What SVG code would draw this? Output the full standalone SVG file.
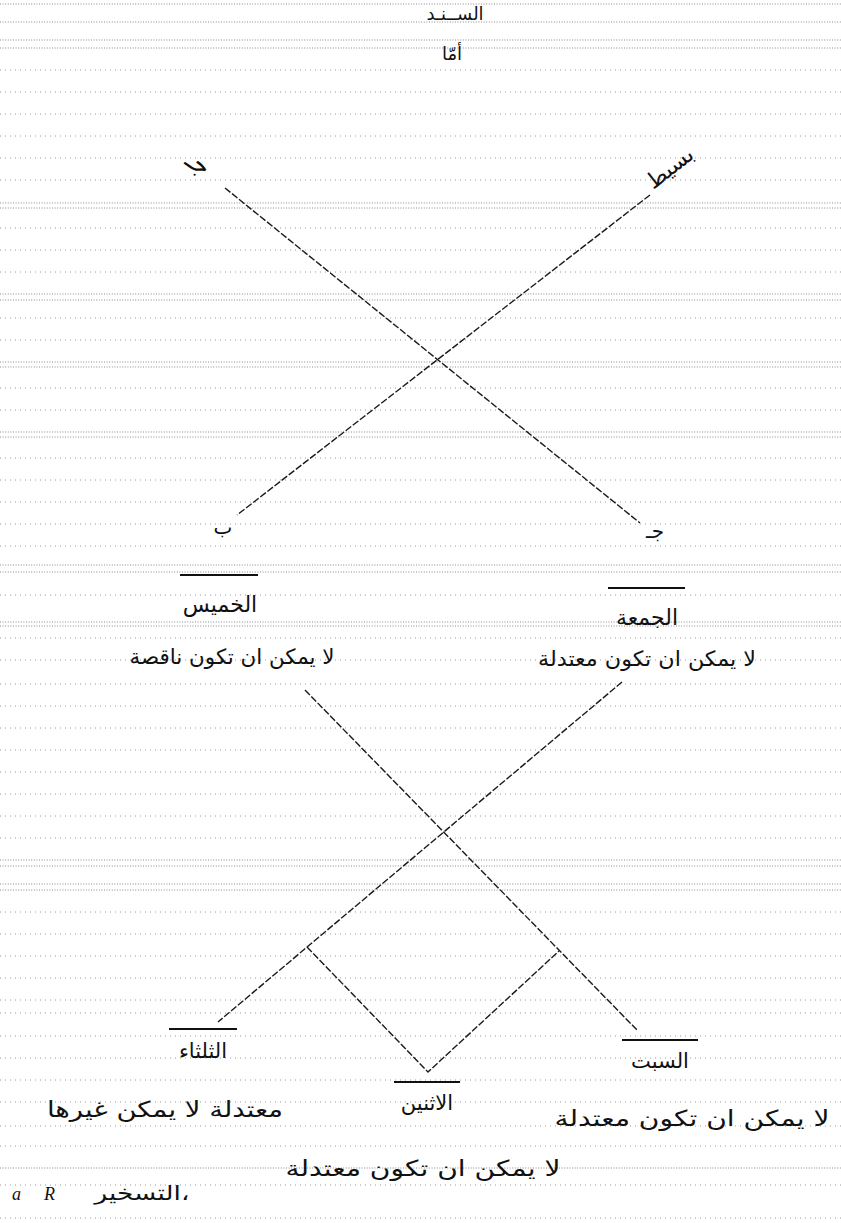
<svg xmlns="http://www.w3.org/2000/svg" width="841" height="1223" viewBox="0 0 841 1223">
<style>
.d{stroke:#9a9a9a;stroke-width:1;stroke-dasharray:1 4;fill:none}
.dd{stroke:#8a8a8a;stroke-width:1;stroke-dasharray:1 1.6;fill:none}
.c{stroke:#1a1a1a;stroke-width:1.4;stroke-dasharray:7 2;fill:none}
.o{stroke:#111;stroke-width:2;fill:none}
.t{font-family:"DejaVu Sans","Noto Sans",sans-serif;fill:#111;text-anchor:middle}
.l{font-family:"Liberation Serif",serif;font-style:italic;fill:#111}
</style>
<rect width="841" height="1223" fill="#fff"/>
<g id="ruling">
<path class="dd" d="M0 4H841M0 22H841M0 40H841M0 48H841"/>
<path class="d" d="M0 70H841M0 92H841M0 114H841M0 136H841M0 158H841M0 180H841"/>
<path class="dd" d="M0 203H841M0 208H841"/>
<path class="d" d="M0 228H841M0 250H841M0 272H841"/>
<path class="dd" d="M0 294H841M0 300H841"/>
<path class="d" d="M0 318H841M0 340H841"/>
<path class="dd" d="M0 362H841M0 367H841"/>
<path class="d" d="M0 388H841M0 410H841"/>
<path class="dd" d="M0 432H841M0 437H841"/>
<path class="d" d="M0 458H841M0 480H841M0 502H841M0 524H841M0 546H841"/>
<path class="dd" d="M0 565H841M0 572H841"/>
<path class="d" d="M0 595H841"/>
<path class="dd" d="M0 622H841M0 626H841"/>
<path class="d" d="M0 638H841M0 660H841M0 684H841M0 706H841M0 728H841M0 750H841M0 772H841M0 794H841M0 816H841M0 838H841"/>
<path class="dd" d="M0 860H841M0 866H841M0 884H841M0 890H841"/>
<path class="d" d="M0 912H841M0 934H841M0 956H841M0 978H841M0 1000H841M0 1013H841M0 1036H841M0 1058H841M0 1080H841M0 1102H841M0 1126H841M0 1146H841"/>
<path class="dd" d="M0 1168H841"/>
<path class="d" d="M0 1185H841M0 1218H841"/>
</g>
<g id="connectors">
<line class="c" x1="225" y1="188" x2="640" y2="523"/>
<line class="c" x1="650" y1="195" x2="237" y2="515"/>
<line class="c" x1="305" y1="690" x2="637" y2="1030"/>
<line class="c" x1="622" y1="682" x2="218" y2="1022"/>
<polyline class="c" points="307,947 428,1072 559,951"/>
</g>
<g id="title"><text class="t" x="455" y="20" font-size="18">الســنـد</text></g>
<g id="imma"><text class="t" x="452" y="60" font-size="18">أمّا</text></g>
<g id="corner-tl"><text class="t" x="198" y="172" font-size="26" transform="rotate(35 198 164)">جـ</text></g>
<g id="corner-tr"><text class="t" x="670" y="175" font-size="22" transform="rotate(-38 670 168)">بسيط</text></g>
<g id="corner-bl"><text class="t" x="223" y="534" font-size="20">ب</text></g>
<g id="corner-br"><text class="t" x="655" y="538" font-size="20">جـ</text></g>
<g id="thursday">
<line class="o" x1="180" y1="575" x2="258" y2="575"/>
<text class="t" x="220" y="612" font-size="22">الخميس</text>
<text class="t" x="232" y="664" font-size="21" textLength="205" lengthAdjust="spacingAndGlyphs">لا يمكن ان تكون ناقصة</text>
</g>
<g id="friday">
<line class="o" x1="608" y1="588" x2="685" y2="588"/>
<text class="t" x="647" y="625" font-size="22">الجمعة</text>
<text class="t" x="647" y="666" font-size="21" textLength="218" lengthAdjust="spacingAndGlyphs">لا يمكن ان تكون معتدلة</text>
</g>
<g id="tuesday">
<line class="o" x1="169" y1="1029" x2="237" y2="1029"/>
<text class="t" x="203" y="1058" font-size="21">الثلثاء</text>
<text class="t" x="165" y="1117" font-size="22" textLength="236" lengthAdjust="spacingAndGlyphs">معتدلة لا يمكن غيرها</text>
</g>
<g id="monday">
<line class="o" x1="394" y1="1082" x2="460" y2="1082"/>
<text class="t" x="427" y="1110" font-size="21">الاثنين</text>
<text class="t" x="423" y="1176" font-size="22" textLength="275" lengthAdjust="spacingAndGlyphs">لا يمكن ان تكون معتدلة</text>
</g>
<g id="saturday">
<line class="o" x1="622" y1="1040" x2="698" y2="1040"/>
<text class="t" x="660" y="1068" font-size="21">السبت</text>
<text class="t" x="692" y="1126" font-size="22" textLength="275" lengthAdjust="spacingAndGlyphs">لا يمكن ان تكون معتدلة</text>
</g>
<g id="footer">
<text class="l" x="12" y="1200" font-size="18">a</text>
<text class="l" x="44" y="1200" font-size="18">R</text>
<text class="t" x="142" y="1200" font-size="20" textLength="95" lengthAdjust="spacingAndGlyphs">التسخير،</text>
</g>
</svg>
